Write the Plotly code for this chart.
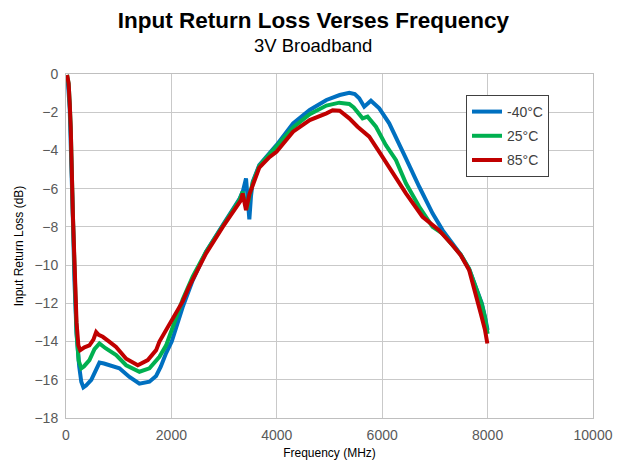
import plotly.graph_objects as go

# -40°C
freq_cold = [10, 40, 70, 100, 130, 160, 200, 250, 290, 330, 380, 480, 560, 635, 720, 825, 1014, 1204, 1393, 1583,
             1710, 1800, 1900, 2006, 2110, 2214, 2404, 2658, 2975, 3290, 3360, 3416, 3450, 3479, 3510, 3543, 3668,
             3860, 3994, 4309, 4625, 4942, 5194, 5375, 5480, 5564, 5659, 5786, 5944, 6133, 6323, 6450, 6703, 6955,
             7145, 7331, 7490, 7649, 7775, 7890, 7950, 8000]
rl_cold = [-0.1, -0.6, -1.8, -4.0, -7.5, -10.8, -13.6, -15.3, -16.1, -16.4, -16.3, -16.0, -15.5, -15.1, -15.15,
           -15.25, -15.4, -15.85, -16.2, -16.1, -15.8, -15.3, -14.6, -14.0, -13.1, -12.2, -10.8, -9.3, -7.9, -6.55,
           -6.1, -5.46, -6.6, -7.6, -6.4, -5.64, -4.76, -4.15, -3.72, -2.58, -1.88, -1.36, -1.1, -0.98, -1.05, -1.27,
           -1.71, -1.40, -1.8, -2.58, -3.63, -4.41, -5.9, -7.29, -8.17, -8.9, -9.45, -10.2, -11.1, -12.0, -12.7,
           -13.4]

# 25°C
freq_room = [20, 50, 70, 90, 130, 160, 200, 240, 290, 340, 445, 540, 635, 750, 952, 1142, 1393, 1583, 1773, 1900,
             2006, 2110, 2214, 2404, 2658, 2975, 3290, 3352, 3400, 3430, 3480, 3543, 3668, 3860, 3994, 4309, 4625,
             4942, 5185, 5375, 5460, 5533, 5628, 5722, 5881, 6070, 6260, 6450, 6703, 6955, 7145, 7331, 7490, 7649,
             7775, 7890, 7950, 8000]
rl_room = [-0.05, -0.5, -1.5, -2.8, -7.3, -10.6, -13.5, -15.0, -15.4, -15.3, -14.97, -14.4, -14.1, -14.35, -14.71,
           -15.24, -15.58, -15.4, -14.8, -14.2, -13.4, -12.6, -11.8, -10.6, -9.3, -7.95, -6.6, -6.16, -6.8, -7.1,
           -6.4, -5.7, -4.8, -4.2, -3.85, -2.8, -2.1, -1.65, -1.5, -1.57, -1.75, -1.97, -2.32, -2.23, -2.76, -3.72,
           -4.5, -5.72, -6.95, -8.0, -8.35, -8.95, -9.45, -10.2, -11.15, -12.05, -12.75, -13.6]

# 85°C
freq_hot = [20, 50, 70, 90, 130, 160, 200, 235, 269, 350, 445, 520, 572, 620, 698, 820, 950, 1142, 1362, 1552,
            1710, 1773, 1900, 2006, 2110, 2214, 2341, 2658, 2975, 3290, 3321, 3352, 3416, 3480, 3543, 3668, 3860,
            3994, 4309, 4625, 4942, 5059, 5194, 5375, 5533, 5754, 5944, 6196, 6450, 6765, 7078, 7331, 7490, 7649,
            7775, 7870, 7951, 7995]
rl_hot = [-0.05, -0.5, -1.5, -2.8, -7.3, -10.5, -13.0, -14.2, -14.45, -14.3, -14.2, -13.9, -13.5, -13.65, -13.75,
          -14.0, -14.28, -14.9, -15.24, -14.97, -14.45, -14.0, -13.4, -12.88, -12.4, -11.9, -11.1, -9.39, -8.0,
          -6.77, -6.6, -6.25, -7.12, -6.3, -5.8, -4.9, -4.35, -4.07, -3.02, -2.41, -2.06, -1.9, -1.92, -2.32, -2.76,
          -3.28, -4.07, -5.2, -6.25, -7.47, -8.17, -8.95, -9.48, -10.26, -11.48, -12.53, -13.4, -14.1]

series = [
    ("-40°C", freq_cold, rl_cold, "#0070C0"),
    ("25°C", freq_room, rl_room, "#00B050"),
    ("85°C", freq_hot, rl_hot, "#C00000"),
]

FONT = "Liberation Sans, Arial"

fig = go.Figure()
for name, x, y, color in series:
    fig.add_trace(go.Scatter(x=x, y=y, mode="lines", name=name, legendgroup=name,
                             line=dict(color=color, width=4)))

axis_common = dict(showgrid=True, gridcolor="#c9c9c9", gridwidth=1, zeroline=False,
                   showline=True, linecolor="#bfbfbf", mirror=True, ticks="", automargin=False,
                   tickfont=dict(family=FONT, size=14, color="#595959"))

# page body has an 8px margin, so margins (and title x) are shifted by 8px
fig.update_layout(
    width=627, height=465,
    paper_bgcolor="white", plot_bgcolor="white",
    margin=dict(l=58, r=42, t=66, b=55),
    title=dict(text="<b>Input Return Loss Verses Frequency</b>", x=0.487, xanchor="center",
               y=0.975, yanchor="middle",
               font=dict(family=FONT, size=22.5, color="black")),
    annotations=[dict(text="3V Broadband", xref="paper", yref="paper", x=0.469, y=1,
                      xanchor="center", yanchor="bottom", yshift=16, showarrow=False,
                      font=dict(family=FONT, size=18.5, color="black"))],
    xaxis=dict(range=[0, 10000], dtick=2000, tickformat="d", ticklabelstandoff=4, **axis_common,
               title=dict(text="Frequency (MHz)", standoff=6,
                          font=dict(family=FONT, size=12, color="black"))),
    yaxis=dict(range=[-18, 0], dtick=2, ticklabelstandoff=4, **axis_common,
               title=dict(text="Input Return Loss (dB)", standoff=8,
                          font=dict(family=FONT, size=12, color="black"))),
    legend=dict(x=0.759, y=0.939, xanchor="left", yanchor="top",
                bgcolor="white", bordercolor="#404040", borderwidth=1,
                font=dict(family=FONT, size=14, color="#404040"),
                tracegroupgap=3, traceorder="grouped"),
    showlegend=True,
)

fig.write_html("out.html")
